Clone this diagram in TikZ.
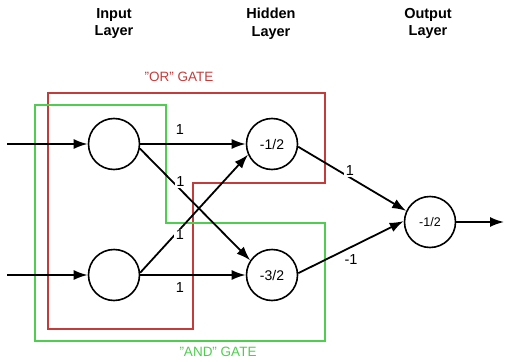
\documentclass[tikz,border=0pt]{standalone}
\usepackage{fontspec}
\setmainfont{Liberation Sans}
\usepackage{tikz}
\definecolor{orred}{RGB}{195,60,60}
\definecolor{andgreen}{RGB}{80,205,80}
\usetikzlibrary{arrows.meta}
\tikzset{>={Latex[length=14pt,width=10pt]}}

\begin{document}
\begin{tikzpicture}[x=1pt, y=-1pt, neuron/.style={draw, circle, line width=1.6pt, minimum size=51pt, inner sep=0pt, font=\fontsize{14}{14}\selectfont}, syn/.style={->, line width=1.8pt}, wt/.style={fill=white, inner sep=1.5pt, font=\fontsize{14.5}{14.5}\selectfont}, gate/.style={line width=1.2pt}, layer/.style={align=center, anchor=north, inner sep=0pt, font=\bfseries\fontsize{14.5}{17.6}\selectfont}, gatelab/.style={font=\fontsize{13.5}{13.5}\selectfont}]
    \useasboundingbox (0,0) rectangle (505,361);

    \foreach \x/\name in {114/Input, 271/Hidden, 428/Output}
        \node[layer] (\name) at (\x, 8) {\name\\Layer};

    % the two gates
    \draw[gate, orred] (48,93) -- (325,93) -- (325,183) -- (193,183) -- (193,329) -- (48,329) -- cycle;
    \draw[gate, andgreen] (35,105) -- (166,105) -- (166,223) -- (325,223) -- (325,341) -- (35,341) -- cycle;
    \node[gatelab, text=orred] (orgate) at (179,77) {"OR" GATE};
    \node[gatelab, text=andgreen] (andgate) at (218,352) {"AND" GATE};

    \foreach \i/\y in {1/144, 2/275}
    {%
        \node[neuron] (I\i) at (114,\y) {};
        \coordinate (x\i) at (7,\y);
        \draw[syn] (x\i) -- (I\i);
    };
    \node[neuron] (H1) at (272,144) {-1/2};
    \node[neuron] (H2) at (272,275) {-3/2};
    \node[neuron, font=\fontsize{12.5}{12.5}\selectfont] (O) at (430,222) {-1/2};
    \coordinate (y) at (504,222);

    \draw[syn] (I1) -- node[wt, pos=0.375, yshift=14pt] {1} (H1);
    \draw[syn] (I2) -- node[wt, pos=0.375, yshift=-13pt] {1} (H2);
    \draw[syn] (I1.-10) -- node[wt, pos=0.33, xshift=4pt, yshift=3.5pt] {1} (H2.146);
    \draw[syn] (I2.5) -- node[wt, pos=0.35, xshift=2pt, yshift=-3.6pt] {1} (H1.204);
    \draw[syn] (H1.-6) -- node[wt, pos=0.48, yshift=7pt] {1} (O.155);
    \draw[syn] (H2.4) -- node[wt, pos=0.5, yshift=-12pt] {-1} (O.178);
    \draw[syn] (O) -- (y);
\end{tikzpicture}
\end{document}
